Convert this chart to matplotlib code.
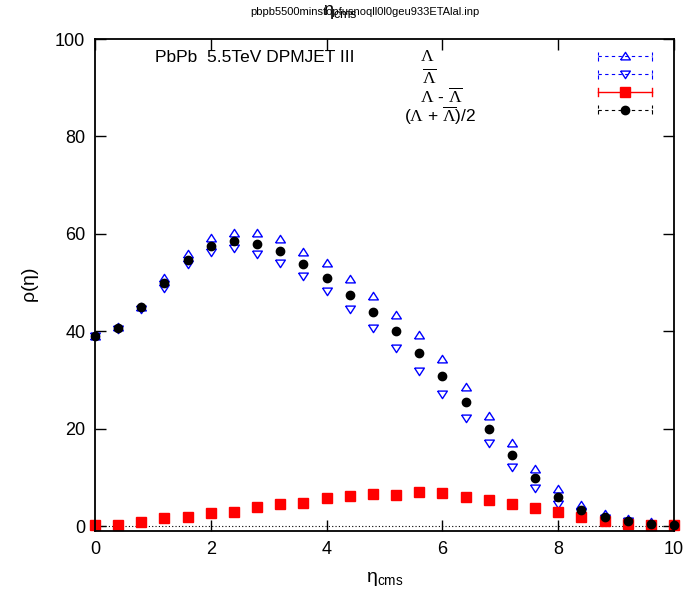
import matplotlib
matplotlib.use("Agg")
import matplotlib.pyplot as plt
from matplotlib.lines import Line2D
from matplotlib.legend_handler import HandlerLine2D

# pseudorapidity bins
eta = [0.0, 0.4, 0.8, 1.2, 1.6, 2.0, 2.4, 2.8, 3.2, 3.6, 4.0, 4.4, 4.8,
       5.2, 5.6, 6.0, 6.4, 6.8, 7.2, 7.6, 8.0, 8.4, 8.8, 9.2, 9.6, 10.0]

lam = [39.0, 40.8, 45.0, 51.0, 55.9, 59.2, 60.2, 60.1, 59.0, 56.3, 54.0, 50.8, 47.3,
       43.4, 39.2, 34.3, 28.6, 22.7, 17.0, 11.8, 7.6, 4.4, 2.5, 1.5, 0.8, 0.3]
lambar = [39.0, 40.4, 44.5, 48.9, 53.8, 56.3, 57.0, 55.9, 54.0, 51.3, 48.2, 44.5, 40.6,
          36.5, 31.8, 27.1, 22.2, 17.0, 12.1, 7.8, 4.5, 2.8, 1.7, 1.0, 0.5, 0.3]
diff = [0.2, 0.3, 0.8, 1.7, 1.9, 2.7, 2.95, 3.9, 4.6, 4.8, 5.8, 6.2, 6.6,
        6.4, 7.0, 6.8, 6.0, 5.4, 4.6, 3.8, 2.8, 1.9, 1.1, 0.4, 0.2, 0.2]
avg = [39.1, 40.7, 44.9, 49.9, 54.7, 57.6, 58.5, 58.0, 56.4, 53.8, 51.0, 47.5, 43.9,
       40.0, 35.5, 30.8, 25.4, 19.9, 14.6, 9.8, 5.9, 3.3, 1.9, 1.0, 0.5, 0.2]

# flattened gnuplot-style triangles
tri_up = [(-1, -0.7), (1, -0.7), (0, 0.85), (-1, -0.7)]
tri_dn = [(-1, 0.7), (1, 0.7), (0, -0.85), (-1, 0.7)]


class HandlerCapLine(HandlerLine2D):
    """gnuplot-like errorbar key sample: line with end ticks"""
    def create_artists(self, legend, orig_handle, xdescent, ydescent,
                       width, height, fontsize, trans):
        artists = list(super().create_artists(legend, orig_handle, xdescent, ydescent,
                                              width, height, fontsize, trans))
        ymid = (height - ydescent) / 2
        cap = 0.35 * height
        for xe in (-xdescent, width - xdescent):
            artists.append(Line2D([xe, xe], [ymid - cap, ymid + cap],
                                  color=orig_handle.get_color(),
                                  lw=orig_handle.get_linewidth(),
                                  ls=orig_handle.get_linestyle(),
                                  transform=trans))
        return artists


plt.rcParams['font.family'] = ['Liberation Sans', 'DejaVu Sans']
plt.rcParams['mathtext.fontset'] = 'custom'
plt.rcParams['mathtext.rm'] = 'Liberation Serif'
plt.rcParams['mathtext.it'] = 'Liberation Serif:italic'
plt.rcParams['mathtext.sf'] = 'Liberation Sans'

fig = plt.figure(figsize=(6.89, 5.90), dpi=100)
ax = fig.add_axes([95 / 689, 1 - 531 / 590, 579 / 689, 492 / 590])

ax.axhline(0, color='black', ls=(0, (1, 2)), lw=0.8)

ax.plot(eta, lam, ls='none', marker=tri_up, ms=7, mfc='none', mec='blue', mew=1.0, clip_on=False)
ax.plot(eta, lambar, ls='none', marker=tri_dn, ms=7, mfc='none', mec='blue', mew=1.0, clip_on=False)
ax.plot(eta, diff, ls='none', marker='s', ms=6.5, color='red', clip_on=False)
ax.plot(eta, avg, ls='none', marker='o', ms=6, color='black', clip_on=False)

ax.set_xlim(0, 10)
ax.set_ylim(-1, 100)
ax.set_xticks([0, 2, 4, 6, 8, 10])
ax.set_yticks([0, 20, 40, 60, 80, 100])
ax.tick_params(direction='in', length=8, width=1, labelsize=13,
               top=True, right=True, pad=7)
for s in ax.spines.values():
    s.set_linewidth(1.3)

ax.set_xlabel(r'$\mathsf{\eta_{cms}}$', fontsize=14, labelpad=9)
ax.set_ylabel(r'$\mathsf{\rho(\eta)}$', fontsize=14, labelpad=10)

ax.text(0.104, 0.962, 'PbPb  5.5TeV DPMJET III', transform=ax.transAxes,
        fontsize=12.5, va='center', ha='left')

# key labels
labels = [r'$\mathrm{\Lambda}$', r'$\overline{\mathrm{\Lambda}}$',
          r'$\mathrm{\Lambda}$ - $\overline{\mathrm{\Lambda}}$',
          r'($\mathrm{\Lambda}$ + $\overline{\mathrm{\Lambda}}$)/2']
lab_x = [0.573, 0.577, 0.598, 0.596]
lab_y = [0.964, 0.923, 0.884, 0.843]
for t, x, y in zip(labels, lab_x, lab_y):
    ax.text(x, y, t, transform=ax.transAxes, fontsize=12.5, ha='center', va='center')

handles = [
    Line2D([], [], color='blue', ls=(0, (3, 3)), lw=0.8, marker=tri_up, ms=7, mfc='none', mew=1.0),
    Line2D([], [], color='blue', ls=(0, (3, 3)), lw=0.8, marker=tri_dn, ms=7, mfc='none', mew=1.0),
    Line2D([], [], color='red', ls='-', lw=1.0, marker='s', ms=7),
    Line2D([], [], color='black', ls=(0, (3, 3)), lw=0.8, marker='o', ms=6),
]
leg = ax.legend(handles, ['', '', '', ''], loc='upper right',
                bbox_to_anchor=(0.987, 1.008), frameon=False,
                handlelength=3.0, handletextpad=0.0, labelspacing=0.05,
                fontsize=13, borderpad=0.3,
                handler_map={Line2D: HandlerCapLine(numpoints=1)})

fig.text(365 / 689, 1 - 12 / 590, 'pbpb5500minstopfusnoqll0l0geu933ETAlal.inp',
         fontsize=8, ha='center', va='center')
fig.text(340 / 689, 1 - 12 / 590, r'$\mathsf{\eta_{cms}}$', fontsize=13, ha='center', va='center')

fig.savefig('out.png', dpi=100)
